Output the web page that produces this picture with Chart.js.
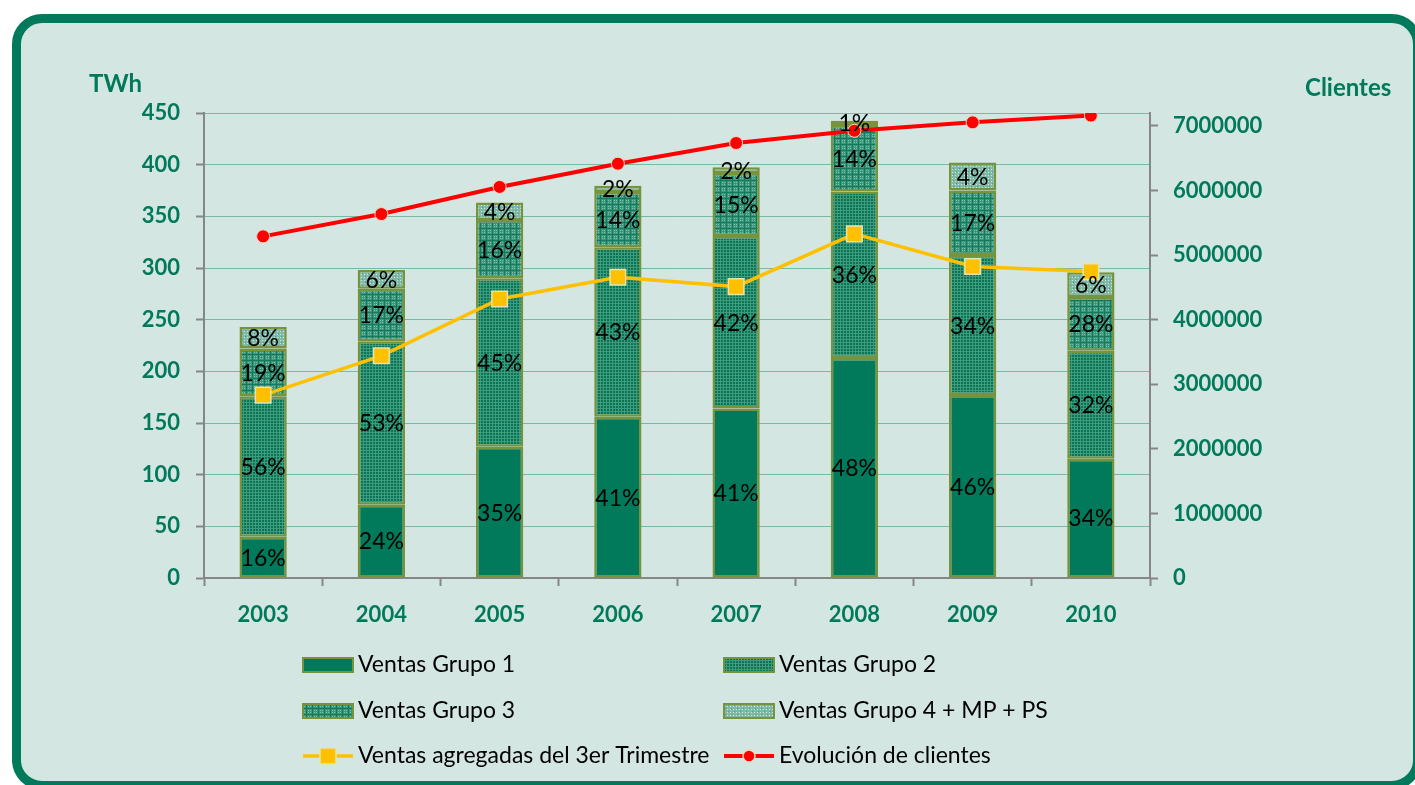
<!DOCTYPE html>
<html>
<head>
<meta charset="utf-8">
<script src="https://cdn.jsdelivr.net/npm/chart.js@4.4.1/dist/chart.umd.min.js"></script>
<style>
    html, body { margin: 0; padding: 0; background: #ffffff; overflow: hidden; }
    .frame {
        position: absolute; left: 12px; top: 14px; width: 1392px; height: 758px;
        border: 9px solid #007a5a; border-radius: 30px; background: #d3e6e2;
    }
    .wrap { position: absolute; left: 0; top: 0; width: 1415px; height: 785px; }
</style>
</head>
<body>
<div class="frame"></div>
<div class="wrap"><canvas id="ventasChart"></canvas></div>
<script>
// Datos del gráfico
const years = ['2003', '2004', '2005', '2006', '2007', '2008', '2009', '2010'];
const grupo1 = [40, 71, 127, 156, 164, 213, 177, 115.5];
const grupo2 = [136, 158, 163, 164, 167, 161, 135.5, 104.5];
const grupo3 = [46, 51, 56.5, 53.5, 61, 64.5, 62.5, 52];
const grupo4 = [21, 18, 17, 6, 5.5, 4, 27, 24];
const trimestre = [177, 215, 270, 291, 282, 333, 301.5, 296.5];
const clientes = [5290000, 5635000, 6055000, 6415000, 6735000, 6925000, 7055000, 7160000];

const pct1 = ['16%', '24%', '35%', '41%', '41%', '48%', '46%', '34%'];
const pct2 = ['56%', '53%', '45%', '43%', '42%', '36%', '34%', '32%'];
const pct3 = ['19%', '17%', '16%', '14%', '15%', '14%', '17%', '28%'];
const pct4 = ['8%', '6%', '4%', '2%', '2%', '1%', '4%', '6%'];

const twhTicks = [0, 50, 100, 150, 200, 250, 300, 350, 400, 450];
const clientesTicks = [0, 1000000, 2000000, 3000000, 4000000, 5000000, 6000000, 7000000];

const verde = '#007a5a';
const gris = '#868686';
const oliva = '#77933c';

// Tramas de las barras
function makePattern(base, paint) {
    const c = document.createElement('canvas');
    c.width = 6; c.height = 6;
    const g = c.getContext('2d');
    g.fillStyle = base;
    g.fillRect(0, 0, 6, 6);
    paint(g);
    return g.createPattern(c, 'repeat');
}

const trama2 = makePattern('#0a7554', g => {
    g.fillStyle = '#3f9b7d';
    g.fillRect(0, 0, 6, 1);
    g.fillRect(0, 3, 6, 1);
    g.fillRect(0, 0, 1, 6);
    g.fillRect(3, 0, 1, 6);
});
const trama3 = makePattern('#3a977c', g => {
    g.fillStyle = '#16795b';
    g.fillRect(0, 0, 6, 1);
    g.fillRect(0, 0, 1, 6);
    g.fillStyle = '#7fc0ab';
    g.fillRect(2, 2, 1, 1);
    g.fillRect(4, 4, 1, 1);
    g.fillRect(2, 4, 1, 1);
    g.fillRect(4, 2, 1, 1);
});
const trama4 = makePattern('#80b9a8', g => {
    g.fillStyle = '#cde6dd';
    g.fillRect(1, 1, 1, 1);
    g.fillRect(4, 4, 1, 1);
    g.fillRect(1, 4, 1, 1);
    g.fillRect(4, 1, 1, 1);
    g.fillStyle = '#4f9c84';
    g.fillRect(2, 3, 1, 1);
    g.fillRect(5, 0, 1, 1);
});

// Etiquetas de porcentaje, títulos y leyenda
const extrasPlugin = {
    id: 'extras',
    afterDatasetsDraw(chart) {
        const ctx = chart.ctx;
        ctx.save();
        ctx.font = '23px Lato';
        ctx.fillStyle = '#000';
        ctx.textAlign = 'center';
        ctx.textBaseline = 'middle';
        [pct1, pct2, pct3, pct4].forEach((arr, d) => {
            chart.getDatasetMeta(d).data.forEach((bar, i) => {
                ctx.fillText(arr[i], bar.x, (bar.y + bar.base) / 2 + 1);
            });
        });
        ctx.restore();
    },
    afterDraw(chart) {
        const ctx = chart.ctx;
        ctx.save();
        ctx.font = 'bold 24px Lato';
        ctx.fillStyle = verde;
        ctx.textBaseline = 'middle';
        ctx.textAlign = 'left';
        ctx.fillText('TWh', 89, 84);
        ctx.fillText('Clientes', 1305, 88);

        // Leyenda
        const ds = chart.data.datasets;
        const cols = [303, 724];
        const rows = [665, 711, 756];
        const items = [[0, 0, 0], [1, 1, 0], [2, 0, 1], [3, 1, 1], [4, 0, 2], [5, 1, 2]];
        ctx.font = '23px Lato';
        items.forEach(([d, c, r]) => {
            const x = cols[c], y = rows[r];
            const set = ds[d];
            if (set.type === 'line') {
                ctx.strokeStyle = set.borderColor;
                ctx.lineWidth = set.borderWidth;
                ctx.beginPath();
                ctx.moveTo(x, y); ctx.lineTo(x + 50, y);
                ctx.stroke();
                ctx.fillStyle = set.pointBackgroundColor;
                ctx.strokeStyle = set.pointBorderColor;
                ctx.lineWidth = 1.5;
                ctx.beginPath();
                if (set.pointStyle === 'rect') {
                    ctx.rect(x + 25 - 8, y - 8, 16, 16);
                } else {
                    ctx.arc(x + 25, y, 6, 0, Math.PI * 2);
                }
                ctx.fill();
                ctx.stroke();
            } else {
                ctx.fillStyle = set.backgroundColor;
                ctx.fillRect(x, y - 7, 50, 14);
                ctx.strokeStyle = oliva;
                ctx.lineWidth = 2;
                ctx.strokeRect(x, y - 7, 50, 14);
            }
            ctx.fillStyle = '#000';
            ctx.fillText(set.label, x + 55, y);
        });
        ctx.restore();
    }
};

function barSet(label, data, fill) {
    return {
        type: 'bar',
        label: label,
        data: data,
        backgroundColor: fill,
        borderColor: oliva,
        borderWidth: 2.5,
        borderSkipped: false,
        yAxisID: 'y',
        order: 3
    };
}

const tickFont = { family: 'Lato', size: 22, weight: 'bold' };

function crearGrafico() {
    const ctx = document.getElementById('ventasChart').getContext('2d');
    new Chart(ctx, {
        type: 'bar',
        data: {
            labels: years,
            datasets: [
                barSet('Ventas Grupo 1', grupo1, verde),
                barSet('Ventas Grupo 2', grupo2, trama2),
                barSet('Ventas Grupo 3', grupo3, trama3),
                barSet('Ventas Grupo 4 + MP + PS', grupo4, trama4),
                {
                    type: 'line',
                    label: 'Ventas agregadas del 3er Trimestre',
                    data: trimestre,
                    borderColor: '#ffc000',
                    borderWidth: 3.5,
                    pointStyle: 'rect',
                    pointRadius: 11,
                    pointBackgroundColor: '#ffc000',
                    pointBorderColor: '#e2e6ad',
                    pointBorderWidth: 1.5,
                    tension: 0,
                    yAxisID: 'y',
                    order: 2
                },
                {
                    type: 'line',
                    label: 'Evolución de clientes',
                    data: clientes,
                    borderColor: '#ff0000',
                    borderWidth: 4,
                    pointStyle: 'circle',
                    pointRadius: 6.5,
                    pointBackgroundColor: '#ff0000',
                    pointBorderColor: '#f4d9c0',
                    pointBorderWidth: 1,
                    tension: 0,
                    yAxisID: 'y1',
                    order: 1
                }
            ]
        },
        options: {
            responsive: true,
            maintainAspectRatio: false,
            animation: false,
            layout: { padding: { top: 113, bottom: 0, left: 0, right: 0 } },
            datasets: { bar: { barPercentage: 0.4, categoryPercentage: 1 } },
            plugins: {
                legend: { display: false },
                tooltip: { enabled: false }
            },
            scales: {
                x: {
                    stacked: true,
                    afterFit: s => { s.height = 207; },
                    border: { display: true, color: gris, width: 2 },
                    grid: { drawOnChartArea: false, tickLength: 8, tickColor: gris, tickWidth: 2 },
                    ticks: { color: verde, font: tickFont, padding: 16 }
                },
                y: {
                    stacked: true,
                    position: 'left',
                    min: 0,
                    max: 450,
                    afterFit: s => { s.width = 204; },
                    afterBuildTicks: s => { s.ticks = twhTicks.map(v => ({ value: v })); },
                    border: { display: true, color: gris, width: 2 },
                    grid: {
                        color: 'rgba(80,165,140,0.7)',
                        lineWidth: 1,
                        borderDash: [2, 2],
                        tickLength: 8,
                        tickColor: gris,
                        tickWidth: 2,
                        tickBorderDash: []
                    },
                    ticks: { color: verde, font: tickFont, padding: 16 }
                },
                y1: {
                    position: 'right',
                    min: 0,
                    max: 7200000,
                    afterFit: s => { s.width = 265; },
                    afterBuildTicks: s => { s.ticks = clientesTicks.map(v => ({ value: v })); },
                    border: { display: true, color: gris, width: 2 },
                    grid: { drawOnChartArea: false, tickLength: 8, tickColor: gris, tickWidth: 2 },
                    ticks: {
                        color: verde,
                        font: tickFont,
                        padding: 15,
                        callback: v => String(v)
                    }
                }
            }
        },
        plugins: [extrasPlugin]
    });
}

Promise.all([
    document.fonts.load('22px Lato'),
    document.fonts.load('bold 22px Lato')
]).catch(() => {}).finally(crearGrafico);
</script>
</body>
</html>
